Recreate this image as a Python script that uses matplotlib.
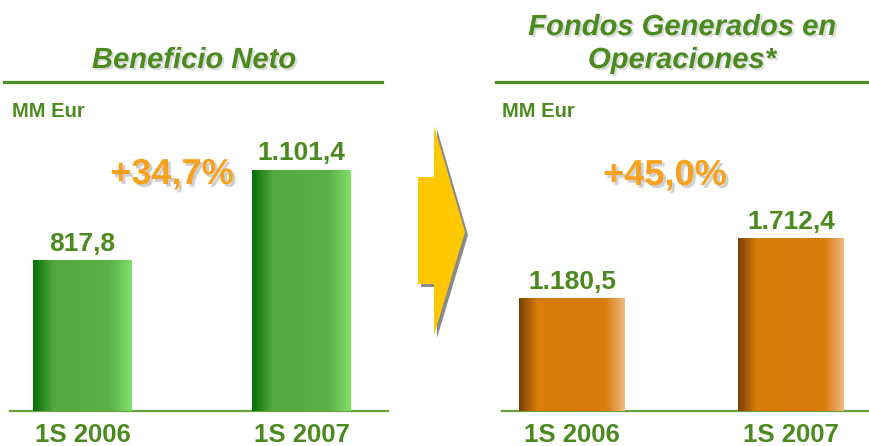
import matplotlib
matplotlib.use("Agg")
import matplotlib.pyplot as plt
import matplotlib.patheffects as pe
from matplotlib.colors import LinearSegmentedColormap
from matplotlib.patches import Polygon
from matplotlib.lines import Line2D
import numpy as np

# data
periods = ["1S 2006", "1S 2007"]
beneficio = [817.8, 1101.4]
fondos = [1180.5, 1712.4]
growth = ["+34,7%", "+45,0%"]
titles = ["Beneficio Neto", "Fondos Generados en\nOperaciones*"]
unit = "MM Eur"

W, H = 870, 446
plt.rcParams["font.family"] = ["Liberation Sans", "DejaVu Sans"]
GREEN_TXT = "#4b8a1f"
ORANGE_TXT = "#f7a11c"

fig = plt.figure(figsize=(W / 100, H / 100), dpi=100)


def px(x, y):
    # pixel position (from top-left) to figure fraction
    return x / W, 1 - y / H


def fmt_es(v):
    return f"{v:,.1f}".replace(",", "#").replace(".", ",").replace("#", ".")


green_cmap = LinearSegmentedColormap.from_list(
    "g", [(0, "#067006"), (0.2, "#53a83f"), (0.78, "#5bb047"), (1, "#80e068")])
orange_cmap = LinearSegmentedColormap.from_list(
    "o", [(0, "#7a4206"), (0.17, "#d97c0a"), (0.82, "#d97d0c"), (1, "#efb67a")])

shadow = [pe.SimplePatchShadow(offset=(1.5, -1.5), shadow_rgbFace="#c4c4c4", alpha=0.6), pe.Normal()]


def panel(rect, values, cmap, xlim, ylim, width):
    ax = fig.add_axes(rect)
    x = np.arange(len(values))
    for xi, v in zip(x, values):
        ax.imshow(np.linspace(0, 1, 80)[None, :], cmap=cmap, aspect="auto",
                  extent=(xi - width / 2, xi + width / 2, 0, v), zorder=3)
        ax.annotate(fmt_es(v), (xi, v), xytext=(0, 7), textcoords="offset points",
                    ha="center", va="baseline", fontsize=19, fontweight="bold",
                    color=GREEN_TXT, zorder=4)
    ax.set_xlim(*xlim)
    ax.set_ylim(*ylim)
    ax.set_xticks(x, periods)
    ax.tick_params(axis="x", length=0, pad=9, labelsize=18.5, labelcolor=GREEN_TXT)
    for lbl in ax.get_xticklabels():
        lbl.set_fontweight("bold")
    ax.set_yticks([])
    for s in ["left", "right", "top"]:
        ax.spines[s].set_visible(False)
    ax.spines["bottom"].set_color("#6a9f3a")
    ax.spines["bottom"].set_linewidth(1.6)
    ax.patch.set_alpha(0)
    return ax


ax1 = panel([10 / W, 1 - 411 / H, 378 / W, 271 / H], beneficio, green_cmap,
            (-0.331, 1.395), (350.3, 1194.9), 0.452)
ax2 = panel([502 / W, 1 - 411 / H, 368 / W, 271 / H], fondos, orange_cmap,
            (-0.3196, 1.361), (187.6, 2590), 0.484)

# titles and underlines
fig.text(*px(194, 68), titles[0], ha="center", va="baseline", fontsize=21,
         fontweight="bold", style="italic", color=GREEN_TXT, path_effects=shadow)
fig.text(*px(682, 35), titles[1].split("\n")[0], ha="center", va="baseline", fontsize=21,
         fontweight="bold", style="italic", color=GREEN_TXT, path_effects=shadow)
fig.text(*px(682, 68), titles[1].split("\n")[1], ha="center", va="baseline", fontsize=21,
         fontweight="bold", style="italic", color=GREEN_TXT, path_effects=shadow)
for x0, x1 in [(4, 382), (496, 870)]:
    (a, y), (b, _) = px(x0, 82), px(x1, 82)
    fig.add_artist(Line2D([a, b], [y, y], color="#4f8f23", lw=2.3))

fig.text(*px(12, 117), unit, fontsize=14.5, fontweight="bold", color=GREEN_TXT, va="baseline")
fig.text(*px(502, 117), unit, fontsize=14.5, fontweight="bold", color=GREEN_TXT, va="baseline")

pct_shadow = [pe.SimplePatchShadow(offset=(2, -2), shadow_rgbFace="#c4c4c4", alpha=0.8), pe.Normal()]
fig.text(*px(172, 184), growth[0], ha="center", va="baseline", fontsize=26,
         fontweight="bold", color=ORANGE_TXT, path_effects=pct_shadow)
fig.text(*px(665, 185), growth[1], ha="center", va="baseline", fontsize=26,
         fontweight="bold", color=ORANGE_TXT, path_effects=pct_shadow)

# yellow arrow between panels
arrow = [(418, 177), (434, 177), (434, 126), (465, 232), (434, 335), (434, 284), (418, 284)]
fig.add_artist(Polygon([px(x + 3, y + 3) for x, y in arrow], closed=True,
                       facecolor="#8a8a8a", edgecolor="none", transform=fig.transFigure))
fig.add_artist(Polygon([px(x, y) for x, y in arrow], closed=True,
                       facecolor="#ffc800", edgecolor="none", transform=fig.transFigure))

fig.savefig("out.png", dpi=100)
